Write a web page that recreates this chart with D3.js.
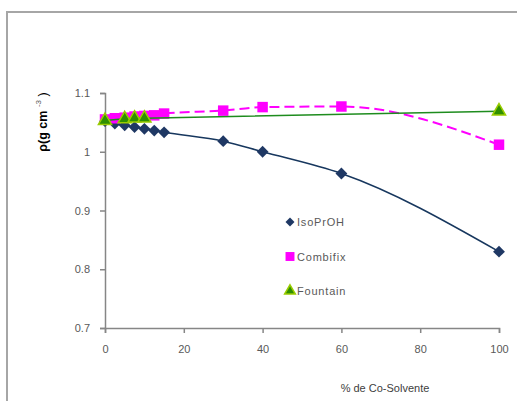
<!DOCTYPE html>
<html>
<head>
<meta charset="utf-8">
<script src="https://cdn.jsdelivr.net/npm/d3@7"></script>
<style>
  body { margin: 0; background: #fff; }
  svg { display: block; font-family: "Liberation Sans", Arial, sans-serif; }
</style>
</head>
<body>
<div id="chart"></div>
<script>
// values
const isoX = [0, 2.5, 5, 7.5, 10, 12.5, 15, 30, 40, 60, 100];
const isoY = [1.052, 1.048, 1.045, 1.042, 1.039, 1.036, 1.033, 1.018, 1.0, 0.963, 0.83];

const combiX = [0, 2.5, 5, 7.5, 10, 12.5, 15, 30, 40, 60, 100];
const combiY = [1.055, 1.057, 1.058, 1.06, 1.061, 1.062, 1.065, 1.07, 1.076, 1.077, 1.012];

const fountX = [0, 5, 7.5, 10, 100];
const fountY = [1.053, 1.056, 1.057, 1.057, 1.069];

const xTicks = [0, 20, 40, 60, 80, 100];
const yTicks = [0.7, 0.8, 0.9, 1.0, 1.1];

const width = 517, height = 401;

const svg = d3.select("#chart").append("svg")
    .attr("width", width)
    .attr("height", height);

// chart frame (only top and left edges show)
svg.append("path")
    .attr("d", `M7,${height} V12 H${width}`)
    .attr("fill", "none")
    .attr("stroke", "#a6a6a6")
    .attr("stroke-width", 2);

const x = d3.scaleLinear().domain([0, 100]).range([105, 499]);
const y = d3.scaleLinear().domain([0.7, 1.1]).range([328, 93]);

const xAxis = svg.append("g")
    .attr("transform", `translate(0,${y(0.7)})`)
    .call(d3.axisBottom(x).tickValues(xTicks).tickSize(5).tickPadding(12).tickFormat(d3.format("d")));

const yAxis = svg.append("g")
    .attr("transform", `translate(${x(0)},0)`)
    .call(d3.axisLeft(y).tickValues(yTicks).tickSize(5).tickPadding(10).tickFormat(d => d === 1 ? "1" : d3.format(".1f")(d)));

[xAxis, yAxis].forEach(g => {
    g.select(".domain").attr("stroke", "#868686").attr("stroke-width", 1.5);
    g.selectAll(".tick line").attr("stroke", "#868686").attr("stroke-width", 1.5);
    g.selectAll(".tick text").attr("fill", "#595959").attr("font-size", "11px");
});

// y axis title: rho(g cm^-3)
const yTitle = svg.append("text")
    .attr("transform", "translate(47,122) rotate(-90)")
    .attr("text-anchor", "middle")
    .attr("font-size", "12.5px")
    .attr("fill", "#000");
yTitle.append("tspan").attr("font-weight", "bold").text("ρ");
yTitle.append("tspan").attr("font-weight", "bold").text("(g cm ");
yTitle.append("tspan").attr("font-size", "8px").attr("dy", -6).attr("fill", "#595959").text("-3");
yTitle.append("tspan").attr("dy", 6).text(" )");

svg.append("text")
    .attr("x", 385)
    .attr("y", 392)
    .attr("text-anchor", "middle")
    .attr("font-size", "11px")
    .attr("fill", "#404040")
    .text("% de Co-Solvente");

const diamond = d3.symbol().type(d3.symbolSquare).size(70);
const square = d3.symbol().type(d3.symbolSquare).size(110);
const triangle = d3.symbol().type(d3.symbolTriangle).size(75);

const series = [
    { name: "IsoPrOH", xs: isoX, ys: isoY, line: "#17375e", width: 1.5, dash: null,
      curve: d3.curveMonotoneX, sym: diamond, rot: 45, fill: "#1f3864", stroke: "none" },
    { name: "Combifix", xs: combiX, ys: combiY, line: "#ff00ff", width: 2, dash: "10,5",
      curve: d3.curveMonotoneX, sym: square, rot: 0, fill: "#ff00ff", stroke: "none" },
    { name: "Fountain", xs: fountX, ys: fountY, line: "#1e8c1e", width: 1.5, dash: null,
      curve: d3.curveLinear, sym: triangle, rot: 0, fill: "#2f8f00", stroke: "#99cc00" }
];

const lineGen = d3.line().x(d => x(d[0])).y(d => y(d[1]));

series.forEach(s => {
    const pts = s.xs.map((v, i) => [v, s.ys[i]]);
    svg.append("path")
        .datum(pts)
        .attr("fill", "none")
        .attr("stroke", s.line)
        .attr("stroke-width", s.width)
        .attr("stroke-dasharray", s.dash)
        .attr("d", lineGen.curve(s.curve));

    svg.append("g").selectAll("path")
        .data(pts)
        .join("path")
        .attr("transform", d => `translate(${x(d[0])},${y(d[1])}) rotate(${s.rot})`)
        .attr("d", s.sym)
        .attr("fill", s.fill)
        .attr("stroke", s.stroke)
        .attr("stroke-width", 1.5);
});

// legend
const legend = svg.append("g").attr("transform", "translate(290,222)");
const legendSyms = [
    d3.symbol().type(d3.symbolSquare).size(40),
    d3.symbol().type(d3.symbolSquare).size(80),
    d3.symbol().type(d3.symbolTriangle).size(50)
];
series.forEach((s, i) => {
    const row = legend.append("g").attr("transform", `translate(0,${i * 34.5})`);
    row.append("path")
        .attr("transform", `rotate(${s.rot})`)
        .attr("d", legendSyms[i])
        .attr("fill", s.fill)
        .attr("stroke", s.stroke)
        .attr("stroke-width", 1.5);
    row.append("text")
        .attr("x", 7)
        .attr("y", 4)
        .attr("font-size", "11px")
        .attr("letter-spacing", "0.8px")
        .attr("fill", "#595959")
        .text(s.name);
});
</script>
</body>
</html>
